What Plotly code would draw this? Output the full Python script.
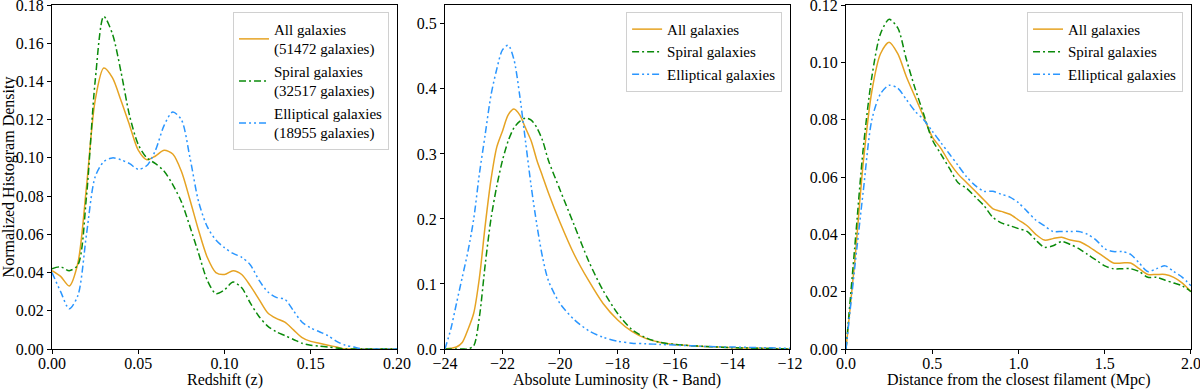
import plotly.graph_objects as go

# Redshift panel
z = [0.0, 0.005, 0.01, 0.015, 0.02, 0.025, 0.03, 0.035, 0.04, 0.045, 0.05, 0.055, 0.06, 0.065,
     0.07, 0.075, 0.08, 0.085, 0.09, 0.095, 0.1, 0.105, 0.11, 0.115, 0.12, 0.125, 0.13, 0.135,
     0.14, 0.145, 0.15, 0.155, 0.16, 0.165, 0.17, 0.175, 0.18, 0.19, 0.2]
z_all = [0.041, 0.038, 0.033, 0.045, 0.085, 0.13, 0.147, 0.142, 0.13, 0.117, 0.104, 0.099, 0.101, 0.104,
         0.102, 0.093, 0.078, 0.062, 0.048, 0.040, 0.039, 0.041, 0.039, 0.033, 0.026, 0.019, 0.016, 0.014,
         0.010, 0.006, 0.004, 0.003, 0.002, 0.001, 0.0, 0.0, 0.0, 0.0, 0.0]
z_spiral = [0.042, 0.043, 0.041, 0.044, 0.08, 0.14, 0.174, 0.165, 0.145, 0.122, 0.107, 0.100, 0.097, 0.093,
            0.086, 0.077, 0.064, 0.050, 0.036, 0.029, 0.031, 0.035, 0.032, 0.024, 0.017, 0.012, 0.009, 0.007,
            0.005, 0.003, 0.002, 0.0015, 0.001, 0.0005, 0.0, 0.0, 0.0, 0.0, 0.0]
z_ellip = [0.040, 0.030, 0.021, 0.028, 0.060, 0.090, 0.098, 0.100, 0.099, 0.097, 0.094, 0.096, 0.104, 0.117,
           0.124, 0.120, 0.100, 0.077, 0.064, 0.057, 0.053, 0.050, 0.048, 0.044, 0.036, 0.030, 0.027, 0.026,
           0.020, 0.014, 0.011, 0.009, 0.007, 0.004, 0.002, 0.001, 0.0, 0.0, 0.0]

# Luminosity panel
lum = [-24, -23.8, -23.6, -23.4, -23.2, -23.0, -22.8, -22.6, -22.4, -22.2, -22.0, -21.8, -21.6, -21.4,
       -21.2, -21.0, -20.8, -20.6, -20.4, -20.0, -19.5, -19.0, -18.5, -18.0, -17.5, -17.0, -16.5, -16.0,
       -15.0, -14.0, -13.0, -12.0]
lum_all = [0.0, 0.001, 0.003, 0.01, 0.03, 0.055, 0.11, 0.19, 0.26, 0.31, 0.335, 0.36, 0.369, 0.36,
           0.34, 0.32, 0.29, 0.265, 0.24, 0.195, 0.145, 0.105, 0.07, 0.045, 0.027, 0.016, 0.01, 0.007,
           0.004, 0.002, 0.001, 0.0]
lum_spiral = [0.0, 0.0, 0.0, 0.0, 0.0, 0.005, 0.05, 0.13, 0.2, 0.25, 0.29, 0.32, 0.34, 0.35,
              0.355, 0.352, 0.34, 0.32, 0.29, 0.245, 0.19, 0.135, 0.09, 0.055, 0.03, 0.017, 0.01, 0.007,
              0.004, 0.002, 0.001, 0.0]
lum_ellip = [0.0, 0.03, 0.07, 0.11, 0.15, 0.2, 0.27, 0.33, 0.39, 0.43, 0.46, 0.467, 0.445, 0.39,
             0.32, 0.25, 0.19, 0.14, 0.105, 0.07, 0.045, 0.028, 0.018, 0.012, 0.009, 0.008, 0.007, 0.006,
             0.004, 0.003, 0.002, 0.001]

# Filament distance panel
dist = [0.0, 0.05, 0.1, 0.15, 0.2, 0.25, 0.3, 0.35, 0.4, 0.45, 0.5, 0.55, 0.6, 0.65, 0.7, 0.75, 0.8,
        0.85, 0.9, 0.95, 1.0, 1.05, 1.1, 1.15, 1.2, 1.25, 1.3, 1.35, 1.4, 1.45, 1.5, 1.55, 1.6, 1.65,
        1.7, 1.75, 1.8, 1.85, 1.9, 1.95, 2.0]
dist_all = [0.0, 0.03, 0.065, 0.09, 0.103, 0.107, 0.103, 0.095, 0.088, 0.081, 0.074, 0.070, 0.065, 0.061,
            0.058, 0.055, 0.052, 0.049, 0.048, 0.047, 0.045, 0.043, 0.040, 0.038, 0.0385, 0.039, 0.038,
            0.0375, 0.036, 0.034, 0.032, 0.030, 0.030, 0.030, 0.028, 0.026, 0.026, 0.026, 0.025, 0.023, 0.020]
dist_spiral = [0.0, 0.035, 0.07, 0.095, 0.11, 0.115, 0.112, 0.101, 0.091, 0.082, 0.073, 0.068, 0.063, 0.058,
               0.056, 0.053, 0.050, 0.046, 0.044, 0.043, 0.042, 0.041, 0.038, 0.0355, 0.036, 0.0375, 0.0365,
               0.035, 0.033, 0.031, 0.029, 0.028, 0.028, 0.028, 0.027, 0.025, 0.025, 0.024, 0.023, 0.022, 0.020]
dist_ellip = [0.0, 0.028, 0.055, 0.08, 0.089, 0.092, 0.091, 0.087, 0.083, 0.080, 0.076, 0.072, 0.068, 0.064,
              0.060, 0.057, 0.055, 0.055, 0.054, 0.053, 0.051, 0.048, 0.045, 0.043, 0.041, 0.041, 0.041,
              0.041, 0.040, 0.038, 0.035, 0.034, 0.034, 0.033, 0.030, 0.027, 0.028, 0.029, 0.027, 0.025, 0.022]

ORANGE = "#e6a323"
GREEN = "#0a8a0a"
BLUE = "#2a96ff"
DASH_G = "7px,3px,2px,3px"
DASH_B = "7px,3px,2px,3px,2px,3px"
FONT = "Liberation Serif"
FS = 16

fig = go.Figure()

panels = [
    ("x", "y", "legend", z, [z_all, z_spiral, z_ellip],
     ["All galaxies<br>(51472 galaxies)", "Spiral galaxies<br>(32517 galaxies)",
      "Elliptical galaxies<br>(18955 galaxies)"]),
    ("x2", "y2", "legend2", lum, [lum_all, lum_spiral, lum_ellip],
     ["All galaxies", "Spiral galaxies", "Elliptical galaxies"]),
    ("x3", "y3", "legend3", dist, [dist_all, dist_spiral, dist_ellip],
     ["All galaxies", "Spiral galaxies", "Elliptical galaxies"]),
]

styles = [(ORANGE, "solid"), (GREEN, DASH_G), (BLUE, DASH_B)]

for xa, ya, lg, xs, ys, names in panels:
    for yv, name, (col, dash) in zip(ys, names, styles):
        fig.add_trace(go.Scatter(
            x=xs, y=yv, name=name, mode="lines",
            line=dict(color=col, dash=dash, width=1.5, shape="spline", smoothing=0.8),
            xaxis=xa, yaxis=ya, legend=lg
        ))

axis_common = dict(
    showline=True, linecolor="black", linewidth=1, mirror=True,
    ticks="outside", ticklen=4, tickcolor="black",
    showgrid=False, zeroline=False, automargin=False,
    ticklabeloverflow="allow",
    tickfont=dict(family=FONT, size=FS, color="black"),
    title_font=dict(family=FONT, size=FS, color="black"),
)

legend_common = dict(
    bgcolor="rgba(255,255,255,0.8)", bordercolor="#d0d0d0", borderwidth=1,
    font=dict(family=FONT, size=15, color="black"),
    xanchor="right", yanchor="top",
)

# x-axis titles as annotations below the tick labels
xtitles = [("x domain", "Redshift (z)"),
           ("x2 domain", "Absolute Luminosity (R - Band)"),
           ("x3 domain", "Distance from the closest filament (Mpc)")]
for xref, txt in xtitles:
    fig.add_annotation(text=txt, xref=xref, yref="paper", x=0.5, y=-0.062,
                       xanchor="center", yanchor="top", showarrow=False, borderpad=0,
                       font=dict(family=FONT, size=FS, color="black"))

fig.update_layout(
    width=1200, height=390,
    margin=dict(l=52, r=9, t=5, b=41),
    plot_bgcolor="white", paper_bgcolor="white",
    showlegend=True,
    xaxis=dict(domain=[0.0, 0.3029], range=[0, 0.2], tickvals=[0, 0.05, 0.1, 0.15, 0.2],
               ticktext=["0.00", "0.05", "0.10", "0.15", "0.20"], anchor="y",
               ticklabelstandoff=-4, **axis_common),
    yaxis=dict(domain=[0, 1], range=[0, 0.18], tickvals=[0, 0.02, 0.04, 0.06, 0.08, 0.1, 0.12, 0.14, 0.16, 0.18],
               tickformat=".2f", anchor="x",
               title=dict(text="Normalized Histogram Density"), **axis_common),
    xaxis2=dict(domain=[0.3450, 0.6479], range=[-24, -12], tickvals=[-24, -22, -20, -18, -16, -14, -12],
                ticktext=["\u221224", "\u221222", "\u221220", "\u221218", "\u221216", "\u221214", "\u221212"],
                anchor="y2", ticklabelstandoff=-4, **axis_common),
    yaxis2=dict(domain=[0, 1], range=[0, 0.529], tickvals=[0, 0.1, 0.2, 0.3, 0.4, 0.5],
                tickformat=".1f", anchor="x2", **axis_common),
    xaxis3=dict(domain=[0.6971, 1.0], range=[0, 2.0], tickvals=[0, 0.5, 1.0, 1.5, 2.0],
                tickformat=".1f", anchor="y3", ticklabelstandoff=-4, **axis_common),
    yaxis3=dict(domain=[0, 1], range=[0, 0.12], tickvals=[0, 0.02, 0.04, 0.06, 0.08, 0.1, 0.12],
                tickformat=".2f", anchor="x3", **axis_common),
    legend=dict(x=0.2959, y=0.98, **legend_common),
    legend2=dict(x=0.641, y=0.98, **legend_common),
    legend3=dict(x=0.993, y=0.98, **legend_common),
)

fig.write_html("out.html", config={"displayModeBar": False},
               post_script="document.body.style.margin='0';")
